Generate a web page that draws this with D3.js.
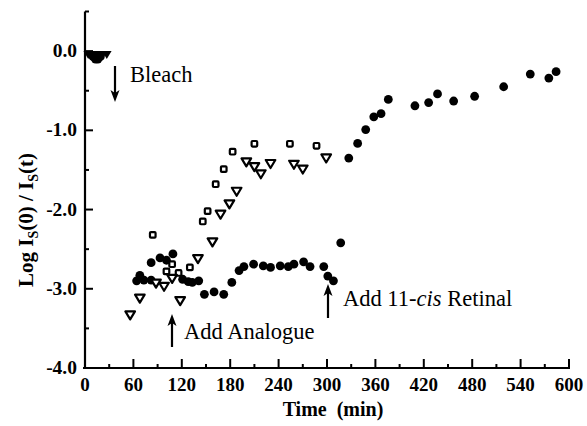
<!DOCTYPE html>
<html><head><meta charset="utf-8">
<script src="https://cdn.jsdelivr.net/npm/d3@7"></script>
<style>body{margin:0;background:#fff}svg{display:block}text{font-family:"Liberation Serif","Times New Roman",serif}</style>
</head><body>
<script>
// Data (time in min, Log Is(0)/Is(t))
const bleachCircleT = [10, 13, 16, 19];
const bleachCircleV = [-0.07, -0.1, -0.1, -0.07];
const bleachTriT = [4, 10, 16, 22, 27];
const bleachTriV = [0, 0, 0, 0, 0];
const circleT = [64,68,73,82,82,93,101,109,121,128,133,141,148,160,172,182,191,197,209,221,230,242,252,259,271,279,296,301,308,317,327,338,348,358,367,376,409,426,437,457,483,519,552,575,584];
const circleV = [-2.90,-2.83,-2.89,-2.89,-2.67,-2.61,-2.64,-2.56,-2.88,-2.91,-2.92,-2.90,-3.07,-3.04,-3.07,-2.92,-2.77,-2.72,-2.69,-2.71,-2.73,-2.71,-2.72,-2.69,-2.66,-2.72,-2.72,-2.84,-2.90,-2.42,-1.35,-1.165,-0.99,-0.83,-0.79,-0.61,-0.69,-0.65,-0.54,-0.63,-0.57,-0.45,-0.29,-0.34,-0.26];
const squareT = [84,101,108,116,130,146,152,162,172,183,210,254,287];
const squareV = [-2.32,-2.78,-2.69,-2.80,-2.73,-2.15,-2.02,-1.68,-1.49,-1.27,-1.17,-1.17,-1.195];
const triT = [56,68,88,98,108,118,140,158,168,179,188,200,210,218,230,259,270,299];
const triV = [-3.33,-3.12,-2.93,-2.97,-2.87,-3.15,-2.62,-2.41,-2.06,-1.93,-1.77,-1.40,-1.46,-1.55,-1.42,-1.43,-1.49,-1.35];
const xTicks = [0,60,120,180,240,300,360,420,480,540,600];
const xTickLabels = ["0","60","120","180","240","300","360","420","480","540","600"];
const yTicks = [0,-1,-2,-3,-4];
const yTickLabels = ["0.0","-1.0","-2.0","-3.0","-4.0"];

const W = 587, H = 426;
const svg = d3.select("body").append("svg").attr("width", W).attr("height", H);
const x = d3.scaleLinear().domain([0, 600]).range([85, 569]);
const y = d3.scaleLinear().domain([-4, 0.5]).range([368, 11.5]);

// X axis
const gx = svg.append("g");
gx.append("line").attr("x1", x(0)-2).attr("x2", x(600)+1).attr("y1", y(-4)).attr("y2", y(-4)).attr("stroke","#000").attr("stroke-width",2.2);
gx.selectAll("line.t").data(d3.range(30, 601, 30)).join("line").attr("class","t")
  .attr("x1", d => x(d)).attr("x2", d => x(d))
  .attr("y1", y(-4)).attr("y2", d => y(-4) - (d % 60 === 0 ? 9 : 4))
  .attr("stroke","#000").attr("stroke-width",2);
gx.selectAll("text").data(xTicks).join("text")
  .attr("x", d => x(d)).attr("y", 391).attr("text-anchor","middle")
  .attr("font-size", 19).attr("font-weight","bold").text((d,i) => xTickLabels[i]);

// Y axis
const gy = svg.append("g");
gy.append("line").attr("x1", x(0)).attr("x2", x(0)).attr("y1", y(0.5)).attr("y2", y(-4)+1).attr("stroke","#000").attr("stroke-width",2.2);
gy.selectAll("line.t").data(d3.range(0.5, -4, -0.5)).join("line").attr("class","t")
  .attr("x1", x(0)).attr("x2", d => x(0) + (Math.abs(d % 1) < 1e-9 ? 8 : 4))
  .attr("y1", d => y(d)).attr("y2", d => y(d))
  .attr("stroke","#000").attr("stroke-width",2);
gy.selectAll("text").data(yTicks).join("text")
  .attr("x", 77).attr("y", d => y(d) + 6).attr("text-anchor","end")
  .attr("font-size", 19.5).attr("font-weight","bold").text((d,i) => yTickLabels[i]);

// Axis titles
svg.append("text").attr("x", 333).attr("y", 416).attr("text-anchor","middle")
  .attr("font-size", 20).attr("font-weight","bold").attr("xml:space","preserve").text("Time  (min)");
const yt = svg.append("text").attr("transform","translate(33,220) rotate(-90)")
  .attr("text-anchor","middle").attr("font-size", 21).attr("font-weight","bold");
yt.append("tspan").text("Log I");
yt.append("tspan").attr("font-size", 14).attr("dy", 5).text("S");
yt.append("tspan").attr("dy", -5).text("(0) / I");
yt.append("tspan").attr("font-size", 14).attr("dy", 5).text("S");
yt.append("tspan").attr("dy", -5).text("(t)");

// Markers
const triPath = "M-4.8,-3.6 L4.8,-3.6 L0,4.4 Z";
const gm = svg.append("g");
gm.selectAll("path.bt").data(bleachTriT).join("path").attr("class","bt")
  .attr("d", triPath).attr("transform", (d,i) => `translate(${x(d)},${y(bleachTriV[i]) + 3.6})`).attr("fill","#000");
gm.selectAll("circle.b").data(bleachCircleT).join("circle").attr("class","b")
  .attr("cx", d => x(d)).attr("cy", (d,i) => y(bleachCircleV[i])).attr("r", 4.4).attr("fill","#000");

gm.selectAll("circle.c").data(circleT).join("circle").attr("class","c")
  .attr("cx", d => x(d)).attr("cy", (d,i) => y(circleV[i])).attr("r", 4.4).attr("fill","#000");
gm.selectAll("rect.s").data(squareT).join("rect").attr("class","s")
  .attr("x", d => x(d) - 2.8).attr("y", (d,i) => y(squareV[i]) - 2.8)
  .attr("width", 5.6).attr("height", 5.6).attr("rx", 1)
  .attr("fill","#fff").attr("stroke","#000").attr("stroke-width", 2.2);
gm.selectAll("path.t").data(triT).join("path").attr("class","t")
  .attr("d", triPath).attr("transform", (d,i) => `translate(${x(d)},${y(triV[i])})`)
  .attr("fill","#fff").attr("stroke","#000").attr("stroke-width", 2.2).attr("stroke-linejoin","round");

// Annotations
function arrow(xp, yTail, yTip) {
  const dir = yTip > yTail ? 1 : -1;
  svg.append("line").attr("x1", xp).attr("x2", xp).attr("y1", yTail).attr("y2", yTip - dir*8)
    .attr("stroke","#000").attr("stroke-width", 2.2);
  svg.append("path").attr("d", `M${xp-4.5},${yTip - dir*12} L${xp},${yTip - dir*9} L${xp+4.5},${yTip - dir*12} L${xp},${yTip} Z`).attr("fill","#000");
}
arrow(115, 66, 102);
svg.append("text").attr("x", 130).attr("y", 82).attr("font-size", 22.5).text("Bleach");
arrow(172, 347, 314);
svg.append("text").attr("x", 184).attr("y", 339).attr("font-size", 22.5).text("Add Analogue");
arrow(328, 318, 284);
const t3 = svg.append("text").attr("x", 343).attr("y", 306).attr("font-size", 22.5);
t3.append("tspan").text("Add 11-");
t3.append("tspan").attr("font-style","italic").text("cis");
t3.append("tspan").text(" Retinal");
</script>
</body></html>
